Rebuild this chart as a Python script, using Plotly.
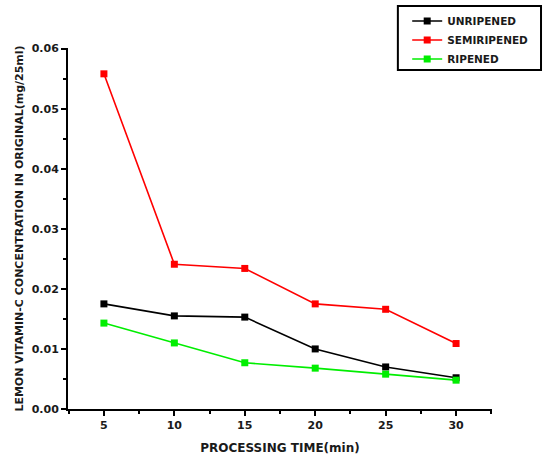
import plotly.graph_objects as go

# Processing time (min) and vitamin-C concentration (mg/25ml) for each ripeness stage
processing_time = [5, 10, 15, 20, 25, 30]
unripened = [0.0175, 0.0155, 0.0153, 0.0100, 0.0070, 0.0052]
semiripened = [0.0558, 0.0241, 0.0234, 0.0175, 0.0166, 0.0109]
ripened = [0.0143, 0.0110, 0.0077, 0.0068, 0.0058, 0.0048]

series = [
    ("UNRIPENED", unripened, "#000000"),
    ("SEMIRIPENED", semiripened, "#ff0000"),
    ("RIPENED", ripened, "#00ee00"),
]

font_family = "DejaVu Sans, Verdana, sans-serif"
bold = dict(family=font_family, weight="bold", color="#1a1a1a")

fig = go.Figure()
for name, values, color in series:
    fig.add_trace(go.Scatter(
        x=processing_time, y=values, name=name, mode="lines+markers",
        line=dict(color=color, width=1.6),
        marker=dict(symbol="square", size=7, color=color),
    ))

# framed legend box
fig.add_shape(
    type="rect", xref="paper", yref="paper",
    x0=0.778, x1=1.1156, y0=0.939, y1=1.1163,
    line=dict(color="#000000", width=2), fillcolor="rgba(0,0,0,0)",
)

fig.update_layout(
    width=546, height=463,
    margin=dict(l=68, r=54, t=48, b=54, autoexpand=False),
    plot_bgcolor="white", paper_bgcolor="white",
    font=dict(family=font_family, size=11, color="#1a1a1a"),
    legend=dict(
        x=0.800, y=1.115, xanchor="left", yanchor="top",
        borderwidth=0, bgcolor="rgba(0,0,0,0)",
        font=dict(size=10.5, **bold),
        tracegroupgap=0,
    ),
    xaxis=dict(
        range=[2.45, 32.55], tickvals=[5, 10, 15, 20, 25, 30],
        showgrid=False, zeroline=False,
        showline=True, linecolor="#000000", linewidth=2,
        ticks="outside", ticklen=5, tickwidth=1.5, tickcolor="#000000",
        minor=dict(tickvals=[2.5, 7.5, 12.5, 17.5, 22.5, 27.5, 32.5],
                   ticks="outside", ticklen=3, tickcolor="#000000", tickwidth=1.5),
        title=dict(text="PROCESSING TIME(min)", font=dict(size=12, **bold), standoff=12),
        tickfont=dict(size=11, **bold),
    ),
    yaxis=dict(
        range=[0, 0.0601], tickvals=[0, 0.01, 0.02, 0.03, 0.04, 0.05, 0.06],
        tickformat=".2f",
        showgrid=False, zeroline=False,
        showline=True, linecolor="#000000", linewidth=2,
        ticks="outside", ticklen=5, tickwidth=1.5, tickcolor="#000000",
        minor=dict(tickvals=[0.005, 0.015, 0.025, 0.035, 0.045, 0.055],
                   ticks="outside", ticklen=3, tickcolor="#000000", tickwidth=1.5),
        title=dict(text="LEMON VITAMIN-C CONCENTRATION IN ORIGINAL(mg/25ml)",
                   font=dict(size=11, **bold), standoff=6),
        tickfont=dict(size=11, **bold),
    ),
)

fig.write_html("out.html")
